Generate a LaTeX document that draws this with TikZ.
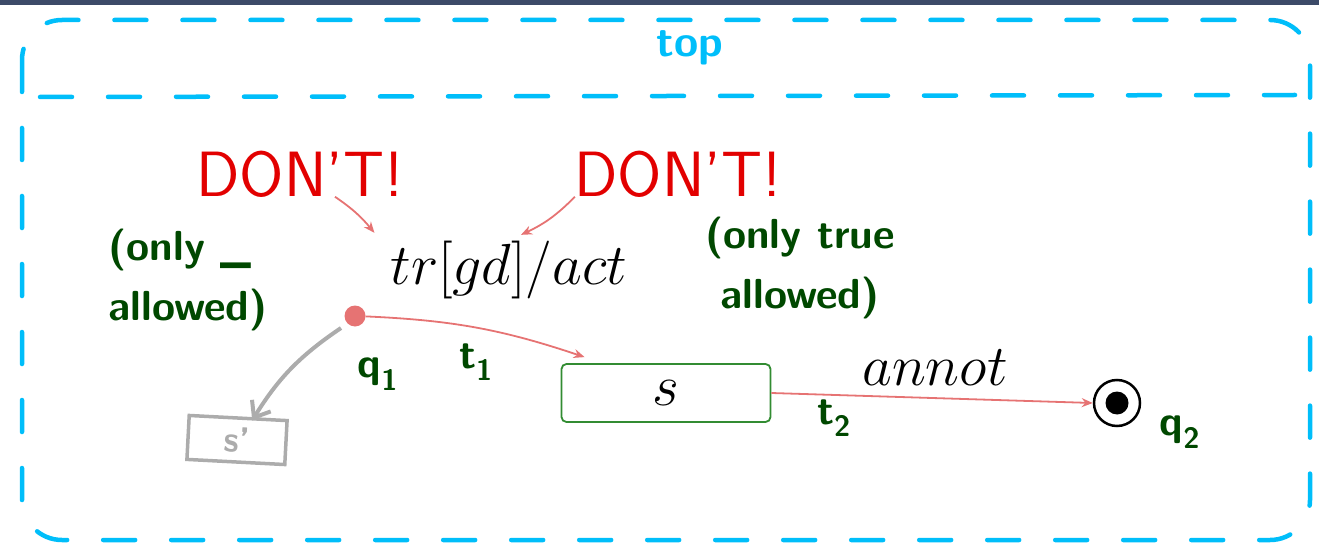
\documentclass[tikz,border=0pt]{standalone}
\usepackage{fontspec}
\usetikzlibrary{arrows.meta}
\definecolor{barblue}{RGB}{60,74,104}
\definecolor{topcyan}{RGB}{0,190,250}
\definecolor{inkgreen}{RGB}{0,72,0}
\definecolor{dontred}{RGB}{226,0,0}
\definecolor{transred}{RGB}{230,115,115}
\definecolor{stgreen}{RGB}{50,140,50}

\tikzset{
  frame/.style={topcyan, line width=4.5pt, dash pattern=on 32pt off 36pt, line cap=round},
  dont/.style={dontred, font=\sffamily\fontsize{64}{64}\selectfont},
  ink/.style={inkgreen, align=left, font=\sffamily\bfseries\fontsize{42}{60}\selectfont},
  trans/.style={transred, line width=1.8pt, -{Stealth[length=11pt,width=9pt]}},
  mathlbl/.style={font=\Huge, scale=2.33},
}

\begin{document}
\begin{tikzpicture}[x=1pt, y=-1pt]
  \useasboundingbox (0,0) rectangle (1319,548);
  \fill[barblue] (0,0) rectangle (1319,5);

  % region frame
  \draw[frame, rounded corners=40pt] (22,20) rectangle (1310,540);
  \draw[frame] (40,97) -- (1295,95);
  \node[topcyan, font=\sffamily\bfseries\fontsize{44}{44}\selectfont] (toplbl) at (690,48) {top};

  % states
  \node[circle, fill=transred, minimum size=21pt, inner sep=0pt] (init) at (355,316) {};
  \node[draw=stgreen, line width=1.8pt, rounded corners=5pt, minimum width=209pt,
        minimum height=58pt] (s) at (666,393) {};
  \node[mathlbl] (slbl) at (s) {$s$};
  \node[circle, draw, line width=2.5pt, minimum size=46pt, inner sep=0pt] (fin) at (1117,403) {};
  \node[circle, fill, minimum size=23pt, inner sep=0pt] (fincore) at (fin) {};

  % transitions
  \draw[trans] (init) to[bend left=8] ([xshift=24pt, yshift=6pt]s.north west);
  \draw[trans] (s.east) -- (fin.west);
  \node[mathlbl] (trig) at (509,270) {$tr[gd]/act$};
  \node[mathlbl] (annot) at (935,368) {$annot$};

  % warnings
  \node[dont] (dont1) at (300,174) {DON’T!};
  \node[dont] (dont2) at (678,174) {DON’T!};
  \draw[trans] ([xshift=35pt, yshift=4pt]dont1.south) to[bend left=8] ([xshift=-8pt]trig.north west);
  \draw[trans] ([xshift=4pt, yshift=4pt]dont2.south west) to[bend left=10] ([xshift=12pt, yshift=-2pt]trig.north);

  % notes
  \node[ink] (note1) at (188,280) {(only \_\\ allowed)};
  \node[ink] (note2) at (800,268) {(only true\\ \ allowed)};
  \node[ink] (q1) at (378,374) {q\textsubscript{1}};
  \node[ink] (t1) at (476,362) {t\textsubscript{1}};
  \node[ink] (t2) at (834,418) {t\textsubscript{2}};
  \node[ink] (q2) at (1180,432) {q\textsubscript{2}};

  % s' sketch
  \node[draw=gray!65, text=gray!65, line width=3.5pt, rotate=-3, minimum width=98pt,
        minimum height=44pt, font=\sffamily\bfseries\fontsize{36}{36}\selectfont] (sp) at (237,440) {s'};
  \draw[gray!65, line width=4pt, -{Straight Barb[length=14pt,width=22pt]}]
    ([xshift=-14pt, yshift=-12pt]init.center) to[bend right=12] ([xshift=14pt, yshift=-4pt]sp.north);
\end{tikzpicture}
\end{document}
